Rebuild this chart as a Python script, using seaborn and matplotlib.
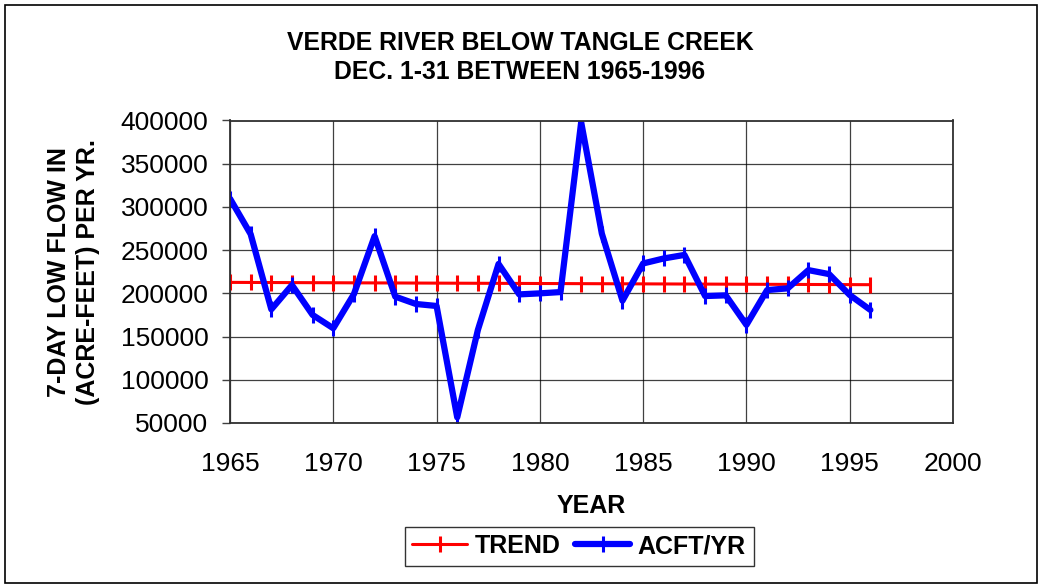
import matplotlib
matplotlib.use("Agg")
import matplotlib.pyplot as plt
from matplotlib.patches import Rectangle
import seaborn as sns
import pandas as pd

# Verde River below Tangle Creek, 7-day low flow for Dec. 1-31
years = list(range(1965, 1997))
acft_per_yr = [309600, 268500, 181500, 209600, 175000, 159600, 199200, 266200,
               196200, 187700, 185400, 56500, 157700, 234000, 198800, 200000,
               201500, 398000, 269200, 191500, 234600, 240400, 244500, 196900,
               197700, 163500, 203800, 205800, 226900, 222300, 198100, 180800]
trend = [212700, 212610, 212530, 212440, 212350, 212270, 212180, 212090,
         212010, 211920, 211840, 211750, 211660, 211580, 211490, 211400,
         211320, 211230, 211150, 211060, 210970, 210890, 210800, 210710,
         210630, 210540, 210460, 210370, 210280, 210200, 210110, 210030]
x_ticks = [1965, 1970, 1975, 1980, 1985, 1990, 1995, 2000]
y_ticks = [50000, 100000, 150000, 200000, 250000, 300000, 350000, 400000]

df = pd.DataFrame({"YEAR": years, "ACFT/YR": acft_per_yr, "TREND": trend})

sns.set_style("white")
plt.rcParams["font.family"] = ["Liberation Sans", "DejaVu Sans"]
plt.rcParams.update({"text.color": "black", "axes.labelcolor": "black",
                     "xtick.color": "black", "ytick.color": "black"})

fig = plt.figure(figsize=(10.4, 5.88), dpi=100)
ax = fig.add_axes([230 / 1040, 1 - 423 / 588, 723 / 1040, 302.5 / 588])

sns.lineplot(data=df, x="YEAR", y="TREND", ax=ax, color="#ff0000", lw=2.2,
             marker="|", markersize=12, markeredgewidth=2.2,
             markeredgecolor="#ff0000", label="TREND")
sns.lineplot(data=df, x="YEAR", y="ACFT/YR", ax=ax, color="#0000ff", lw=4.5,
             marker="|", markersize=12, markeredgewidth=2.2,
             markeredgecolor="#0000ff", label="ACFT/YR")

ax.set_xlim(1965, 2000)
ax.set_ylim(50000, 400000)
ax.set_xticks(x_ticks)
ax.set_yticks(y_ticks)
ax.grid(True, color="black", lw=0.9, alpha=0.75)
ax.set_axisbelow(True)
for s in ax.spines.values():
    s.set_color("#303030")
    s.set_linewidth(1.3)

ax.tick_params(axis="y", length=6, width=1, color="#404040", pad=9.5,
               labelsize=19, left=True)
ax.tick_params(axis="x", length=0, pad=21, labelsize=19)

ax.set_xlabel("YEAR", fontsize=18, fontweight="bold", va="center")
ax.xaxis.set_label_coords(0.5, -(506 - 423) / 302.5)
ax.set_ylabel("7-DAY LOW FLOW IN\n(ACRE-FEET) PER YR.", fontsize=18,
              fontweight="bold", va="center", linespacing=1.3)
ax.yaxis.set_label_coords((73.5 - 230) / 723, 0.5)

fig.text(520 / 1040, 1 - 57.5 / 588,
         "VERDE RIVER BELOW TANGLE CREEK\nDEC. 1-31 BETWEEN 1965-1996",
         ha="center", va="center", fontsize=17.8, fontweight="bold",
         linespacing=1.25)

ax.get_legend().remove()
handles, labels = ax.get_legend_handles_labels()
leg = fig.legend(handles, labels, loc="center", ncol=2,
                 bbox_to_anchor=(579 / 1040, 1 - 546 / 588),
                 prop={"size": 18, "weight": "bold"}, frameon=True,
                 fancybox=False, edgecolor="black", handlelength=2.2,
                 handletextpad=0.3, columnspacing=0.6, borderpad=0.3)
leg.get_frame().set_linewidth(1.0)

fig.patches.append(Rectangle((5 / 1040, 5 / 588), 1032 / 1040, 578 / 588,
                             transform=fig.transFigure, fill=False,
                             edgecolor="black", lw=1.2))

fig.savefig("out.png", dpi=100)
